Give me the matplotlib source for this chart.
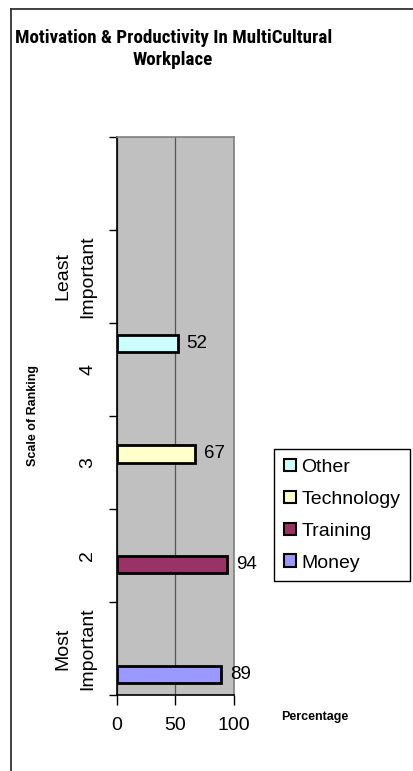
import numpy as np
import matplotlib
matplotlib.use("Agg")
import matplotlib.pyplot as plt
from matplotlib import font_manager
from matplotlib.patches import Patch
from matplotlib.lines import Line2D

plt.rcParams['font.family'] = ['Liberation Sans', 'DejaVu Sans']

# Ranking categories, bottom to top
categories = ["Most\nImportant", "2", "3", "4", "Least\nImportant", ""]

# Percentage per ranking for each factor (nan = no bar)
money = [89, np.nan, np.nan, np.nan, np.nan, np.nan]
training = [np.nan, 94, np.nan, np.nan, np.nan, np.nan]
technology = [np.nan, np.nan, 67, np.nan, np.nan, np.nan]
other = [np.nan, np.nan, np.nan, 52, np.nan, np.nan]

series_names = ["Money", "Training", "Technology", "Other"]
series_values = [money, training, technology, other]
series_colors = ["#9999ff", "#993366", "#ffffcc", "#ccffff"]

x_ticks = [0, 50, 100]

title_lines = ["Motivation & Productivity In MultiCultural", "Workplace"]

W, H = 414, 771
fig = plt.figure(figsize=(W / 100, H / 100), dpi=100)
fig.patch.set_facecolor("white")


def fx(px):
    return px / W


def fy(px):
    return 1 - px / H


# outer chart frame (left and top edges)
fig.add_artist(Line2D([fx(11.5), fx(11.5)], [0, fy(9)], color="#333333", lw=1.3,
                      transform=fig.transFigure))
fig.add_artist(Line2D([fx(11), 1], [fy(9), fy(9)], color="#333333", lw=1.3,
                      transform=fig.transFigure))

ax = fig.add_axes([fx(117), 76 / H, 117 / W, 558 / H])
ax.set_facecolor("#c0c0c0")

n = len(series_values)
group = 0.732
bar_h = group / n
y = np.arange(len(categories))
for i, (name, vals, col) in enumerate(zip(series_names, series_values, series_colors)):
    pos = y + (i - (n - 1) / 2) * bar_h
    vals = np.asarray(vals, dtype=float)
    ax.barh(pos, vals, height=bar_h, color=col, edgecolor="black", linewidth=2,
            label=name, zorder=3)
    for p, v in zip(pos, vals):
        if np.isfinite(v):
            ax.text(v + 7.5, p, f"{v:.0f}", va="center", ha="left", fontsize=13.5,
                    clip_on=False)

ax.set_xlim(0, 100)
ax.set_ylim(-0.5, len(categories) - 0.5)
ax.set_xticks(x_ticks)
ax.set_xticklabels([str(t) for t in x_ticks], fontsize=14)
ax.xaxis.grid(True, color="#555555", linewidth=0.9, zorder=1)
ax.set_axisbelow(True)

ax.set_yticks(y)
ax.set_yticklabels(categories, rotation=90, fontsize=14, va="center",
                   multialignment="center", linespacing=1.6)
ax.set_yticks(np.arange(len(categories) + 1) - 0.5, minor=True)
ax.tick_params(axis="y", which="major", length=0, pad=15)
ax.tick_params(axis="y", which="minor", length=6, width=1, color="black")
ax.tick_params(axis="x", which="major", length=7, width=1, color="black", pad=9)

for side in ("top", "right"):
    ax.spines[side].set_color("#808080")
    ax.spines[side].set_linewidth(1.2)
for side in ("left", "bottom"):
    ax.spines[side].set_color("black")
    ax.spines[side].set_linewidth(1.2)

# Title: prefer a narrow bold face; size chosen so the first line spans ~318 px
installed = {f.name for f in font_manager.fontManager.ttflist}
narrow = [f for f in ("Liberation Sans Narrow", "Arial Narrow", "Roboto Condensed",
                      "Open Sans Condensed", "DejaVu Sans Condensed") if f in installed]
title_family = narrow[:1] + ["Liberation Sans", "DejaVu Sans"]
title_font = dict(family=title_family, fontweight="bold", ha="center", va="baseline")
t1 = fig.text(fx(174), fy(43), title_lines[0], fontsize=14, **title_font)
t2 = fig.text(fx(173), fy(65), title_lines[1], fontsize=14, **title_font)
renderer = fig.canvas.get_renderer()
width_px = t1.get_window_extent(renderer).width
size = 14 * 318 / width_px
t1.set_fontsize(size)
t2.set_fontsize(size)

fig.text(fx(33), fy(415), "Scale of Ranking", rotation=90, ha="center", va="center",
         fontsize=9, fontweight="bold")
fig.text(fx(315), fy(717), "Percentage", ha="center", va="center",
         fontsize=9, fontweight="bold")

handles = [Patch(facecolor=c, edgecolor="black", linewidth=1.5, label=nm)
           for nm, c in zip(series_names, series_colors)][::-1]
leg = fig.legend(handles=handles, loc="upper left",
                 bbox_to_anchor=(fx(274), fy(449)), fontsize=14,
                 frameon=True, fancybox=False, edgecolor="black", framealpha=1,
                 handlelength=0.62, handleheight=0.62, handletextpad=0.3,
                 labelspacing=0.76, borderpad=0.5, borderaxespad=0)
leg.get_frame().set_linewidth(1)

fig.savefig("out.png", dpi=100)
